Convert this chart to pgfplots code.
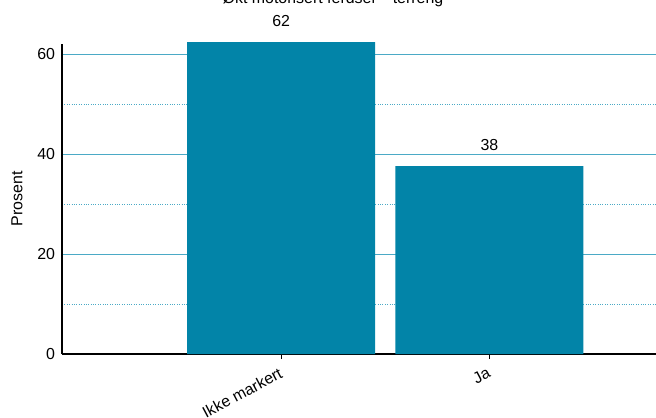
\documentclass[border=0pt]{standalone}
\usepackage{fontspec}
\setmainfont{Liberation Sans}
\usepackage{pgfplots}
\pgfplotsset{compat=1.18}
\definecolor{barc}{RGB}{2,132,168}
\definecolor{gridc}{RGB}{75,170,198}
\begin{document}
\fontsize{16}{18}\selectfont
\begin{tikzpicture}
\begin{axis}[
  scale only axis, width=594bp, height=310bp,
  at={(0,0)}, anchor=south west,
  xmin=-1.053, xmax=1.80, ymin=0, ymax=62,
  clip=false,
  axis x line=bottom, axis y line=left,
  axis line style={-, line width=1.6pt, black},
  xtick={0,1}, xticklabels={Ikke markert, Ja},
  xtick style={black, line width=1pt},
  major tick length=5bp,
  x tick label style={rotate=28, anchor=north east, xshift=-1bp, yshift=0bp},
  ytick={0,20,40,60}, minor ytick={10,30,50},
  ytick style={draw=none}, minor tick style={draw=none},
  ymajorgrids, yminorgrids,
  major grid style={gridc, line width=1pt},
  minor grid style={gridc, dotted, line width=0.6pt},
  yticklabel style={xshift=1bp},
  ylabel={Prosent},
  ylabel style={at={(axis description cs:-0.076,0.5)}, anchor=center},
  /pgf/number format/assume math mode=true,
  tick label style={font=\fontsize{16}{18}\selectfont},
  label style={font=\fontsize{16}{18}\selectfont},
  ybar, bar width=188bp, bar shift=0pt,
  nodes near coords, /pgf/number format/precision=0,
  /pgf/number format/fixed,
  nodes near coords style={font=\fontsize{16}{18}\selectfont, yshift=10bp},
]
\addplot[fill=barc, draw=none] coordinates {(0,62.4) (1,37.6)};
\end{axis}
\node[anchor=base, font=\fontsize{16}{18}\selectfont] at (271bp,350.5bp) {Økt motorisert ferdsel – terreng};
\pgfresetboundingbox
\useasboundingbox (-62bp,-64bp) rectangle (594bp,354bp);
\end{tikzpicture}
\end{document}
